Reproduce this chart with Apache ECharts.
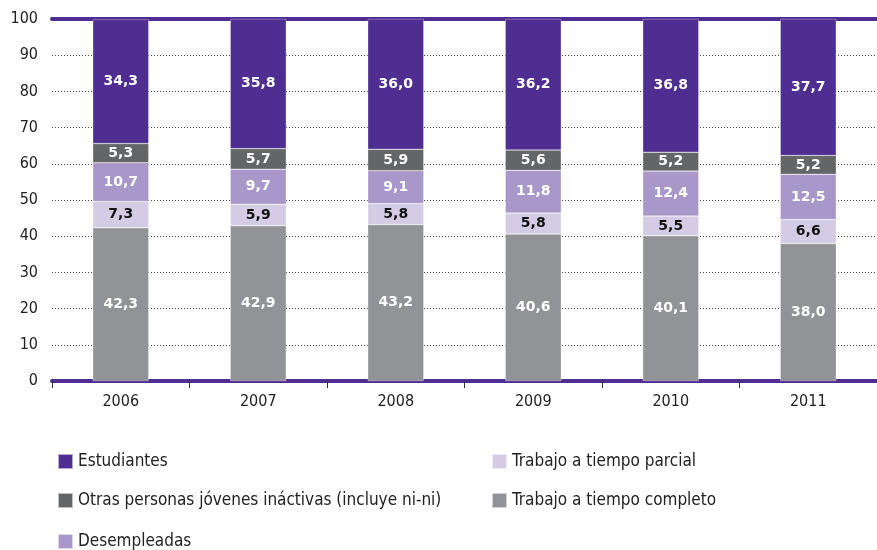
<!DOCTYPE html>
<html>
<head>
<meta charset="utf-8">
<script src="https://cdn.jsdelivr.net/npm/echarts@6/dist/echarts.min.js"></script>
<style>
  html, body { margin: 0; padding: 0; background: #fff; }
  #chart { width: 877px; height: 550px; }
</style>
</head>
<body>
<div id="chart"></div>
<script>
const years = ["2006", "2007", "2008", "2009", "2010", "2011"];
const completo = [42.3, 42.9, 43.2, 40.6, 40.1, 38.0];
const parcial = [7.3, 5.9, 5.8, 5.8, 5.5, 6.6];
const desempleadas = [10.7, 9.7, 9.1, 11.8, 12.4, 12.5];
const otras = [5.3, 5.7, 5.9, 5.6, 5.2, 5.2];
const estudiantes = [34.3, 35.8, 36.0, 36.2, 36.8, 37.7];

const font = "'Liberation Sans Narrow', 'DejaVu Sans Condensed', 'Noto Sans', sans-serif";
const purple = "#4f2e91";

const series = [
  { name: "Trabajo a tiempo completo", data: completo, color: "#929396", label: "#fff" },
  { name: "Trabajo a tiempo parcial", data: parcial, color: "#d4cce4", label: "#111" },
  { name: "Desempleadas", data: desempleadas, color: "#a898c9", label: "#fff" },
  { name: "Otras personas jóvenes ináctivas (incluye ni-ni)", data: otras, color: "#646567", label: "#fff" },
  { name: "Estudiantes", data: estudiantes, color: purple, label: "#fff" },
].map((s) => ({
  name: s.name,
  type: "bar",
  stack: "total",
  barWidth: 56,
  data: s.data,
  itemStyle: { color: s.color, borderColor: "rgba(255,255,255,0.6)", borderWidth: 0.5 },
  label: {
    show: true,
    position: "inside",
    color: s.label,
    fontFamily: "'DejaVu Sans', sans-serif",
    fontWeight: "bold",
    fontSize: 14,
    formatter: (p) => p.value.toFixed(1).replace(".", ","),
  },
}));

// legend placement, one legend per entry
const legendPos = [
  ["Estudiantes", 57, 453],
  ["Trabajo a tiempo parcial", 491, 453],
  ["Otras personas jóvenes ináctivas (incluye ni-ni)", 57, 492],
  ["Trabajo a tiempo completo", 491, 492],
  ["Desempleadas", 57, 533],
];

const option = {
  animation: false,
  grid: { left: 52, right: 0, top: 19, bottom: 169 },
  legend: legendPos.map(([name, left, top]) => ({
    data: [name],
    left, top,
    padding: 0,
    icon: "rect",
    itemWidth: 15,
    itemHeight: 15,
    textStyle: { fontFamily: font, fontSize: 17, color: "#222" },
    selectedMode: false,
  })),
  xAxis: [
    {
      type: "category",
      data: years,
      axisLine: { lineStyle: { color: purple, width: 4 } },
      axisTick: { show: true, length: 7, lineStyle: { color: "#333", width: 1 } },
      axisLabel: { color: "#222", fontFamily: font, fontSize: 16, margin: 13 },
    },
    {
      type: "category",
      data: years,
      position: "top",
      axisLine: { lineStyle: { color: purple, width: 4 } },
      axisTick: { show: false },
      axisLabel: { show: false },
    },
  ],
  yAxis: {
    type: "value",
    min: 0,
    max: 100,
    interval: 10,
    axisLine: { show: false },
    axisTick: { show: false },
    axisLabel: { color: "#222", fontFamily: font, fontSize: 16, margin: 14 },
    splitLine: { lineStyle: { color: "#444", type: [1, 2], width: 1 } },
  },
  series,
};

echarts.init(document.getElementById("chart")).setOption(option);
</script>
</body>
</html>
